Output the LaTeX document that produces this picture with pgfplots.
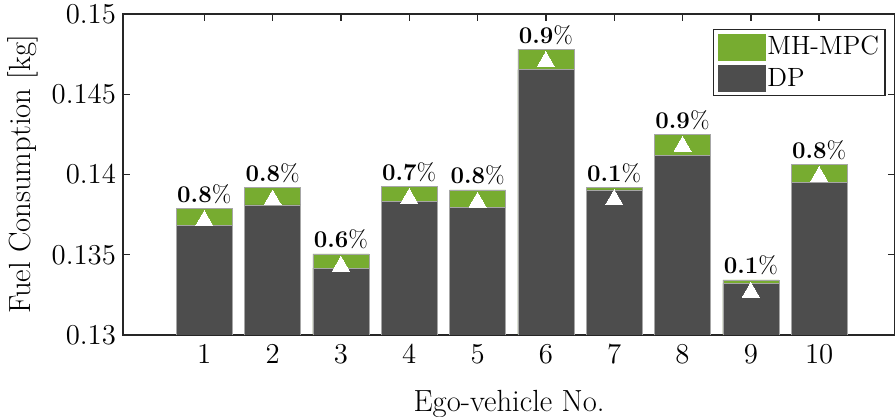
\documentclass[border=0pt]{standalone}
\usepackage{pgfplots}
\usepackage{pgfplotstable}
\pgfplotsset{compat=1.18}
\definecolor{mpcgreen}{HTML}{77AC30}
\definecolor{dpgray}{HTML}{4D4D4D}
\definecolor{axgray}{HTML}{262626}

\pgfplotstableread{
x mpc dp pct
1 0.13789 0.13681 0.8
2 0.13918 0.13810 0.8
3 0.13505 0.13417 0.6
4 0.13927 0.13831 0.7
5 0.13904 0.13796 0.8
6 0.14780 0.14653 0.9
7 0.13920 0.13904 0.1
8 0.14252 0.14117 0.9
9 0.13343 0.13322 0.1
10 0.14064 0.13949 0.8
}\data

\begin{document}
\begin{tikzpicture}[font=\fontsize{14.5}{17}\selectfont]
\begin{axis}[
  name=ax,
  width=386pt, height=160.5pt, scale only axis,
  xmin=-0.19, xmax=11.11, ymin=0.13, ymax=0.15,
  xtick={1,...,10},
  ytick={0.13,0.135,0.14,0.145,0.15},
  scaled y ticks=false,
  yticklabel style={/pgf/number format/fixed,/pgf/number format/precision=3},
  xticklabel style={yshift=-1.5pt},
  tick align=inside, tick pos=both,
  major tick length=3.7pt,
  axis line style={axgray, line width=0.7pt},
  every tick/.style={axgray, line width=0.7pt},
  xlabel={Ego-vehicle No.},
  ylabel={Fuel Consumption [kg]},
  xlabel style={font=\fontsize{15.3}{18}\selectfont, yshift=-6.5pt},
  ylabel style={font=\fontsize{15.3}{18}\selectfont},
  legend cell align=left,
  legend style={at={(rel axis cs:1,1)}, anchor=north east, xshift=-4.7pt, yshift=-7.5pt,
    draw=axgray, line width=0.6pt, inner xsep=2pt, inner ysep=2pt, row sep=2.5pt,
    nodes={inner sep=1pt}, font=\fontsize{13.2}{15}\selectfont},
]
\addplot[ybar, bar width=0.82, bar shift=0pt, fill=mpcgreen, draw=black!35, line width=0.3pt,
  point meta=explicit symbolic,
  nodes near coords={\textbf{\pgfplotspointmeta}\%},
  every node near coord/.append style={font=\fontsize{12}{14}\selectfont, inner sep=0pt, anchor=south, yshift=2.2pt, text=black},
  legend image code/.code={\fill[mpcgreen] (0pt,-6.5pt) rectangle (23.5pt,6.5pt);}]
  table[x=x, y=mpc, meta=pct]{\data};
\addlegendentry{MH-MPC}
\addplot[ybar, bar width=0.82, bar shift=0pt, fill=dpgray, draw=black!35, line width=0.3pt,
  legend image code/.code={\fill[dpgray] (0pt,-6.5pt) rectangle (23.5pt,6.5pt);}]
  table[x=x, y=dp]{\data};
\addlegendentry{DP}
\addplot[white, only marks, forget plot, mark=triangle*, mark size=4.9pt,
  mark options={fill=white, draw=white, line width=0pt, yshift=-6.1pt}]
  table[x=x, y=mpc]{\data};
\end{axis}
\pgfresetboundingbox
\path[use as bounding box] ([xshift=-61.5pt,yshift=-41pt]ax.south west) rectangle ([yshift=7pt]ax.north east);
\end{tikzpicture}
\end{document}
